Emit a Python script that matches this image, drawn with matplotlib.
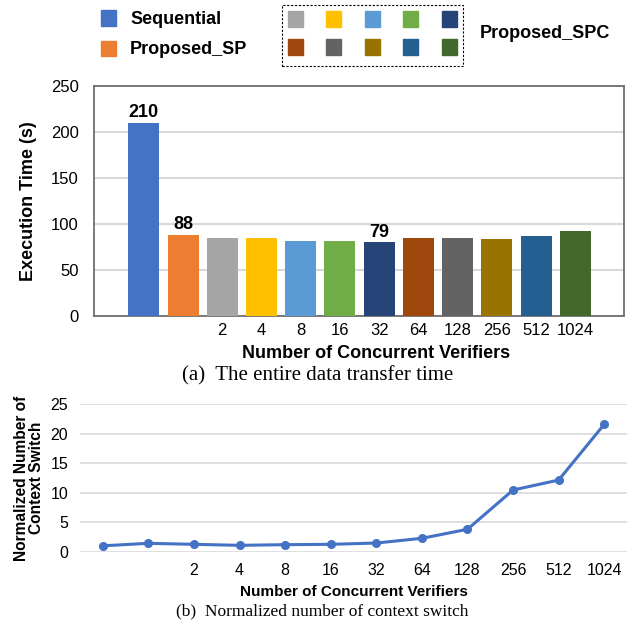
import numpy as np
import matplotlib
matplotlib.use('Agg')
import matplotlib.pyplot as plt
from matplotlib.patches import Rectangle

plt.rcParams['font.family'] = ['Liberation Sans', 'DejaVu Sans']

# ------------------------------------------------------------------
# Data
# ------------------------------------------------------------------
SERIES = ['Sequential', 'Proposed_SP', '2', '4', '8', '16', '32',
          '64', '128', '256', '512', '1024']
TICK_LABELS = ['', '', '2', '4', '8', '16', '32', '64', '128', '256', '512', '1024']
EXEC_TIME = [210, 88, 85, 84, 81.5, 81.5, 80, 85, 85, 83, 87, 92.5]
BAR_LABELS = {0: '210', 1: '88', 6: '79'}
CTX_SWITCH = [1.0, 1.42, 1.25, 1.08, 1.19, 1.25, 1.47, 2.27, 3.8, 10.46, 12.15, 21.6]

COLORS = ['#4472C4', '#ED7D31', '#A5A5A5', '#FFC000', '#5B9BD5', '#70AD47',
          '#264478', '#9E480E', '#636363', '#997300', '#255E91', '#43682B']

GRID = '#D9D9D9'

fig = plt.figure(figsize=(6.33, 6.29), dpi=100)

# ------------------------------------------------------------------
# (a) bar chart
# ------------------------------------------------------------------
ax = fig.add_axes([0.1485, 0.4981, 0.8373, 0.3656])
x = np.arange(len(SERIES))
ax.bar(x, EXEC_TIME, width=0.79, color=COLORS, zorder=3)
for i, lab in BAR_LABELS.items():
    ax.text(x[i], EXEC_TIME[i] + 1.5, lab, ha='center', va='bottom',
            fontsize=13, fontweight='bold')
ax.set_xlim(-1.27, 12.24)
ax.set_ylim(0, 250)
ax.set_yticks(np.arange(0, 251, 50))
ax.set_xticks(x)
ax.set_xticklabels(TICK_LABELS)
ax.tick_params(length=0, labelsize=12)
ax.tick_params(axis='x', pad=5)
ax.tick_params(axis='y', pad=11)
ax.yaxis.grid(True, color=GRID, lw=1.5, zorder=0)
for s in ax.spines.values():
    s.set_color('#6E6E6E')
    s.set_linewidth(1.3)
ax.set_ylabel('Execution Time (s)', fontsize=13, fontweight='bold', labelpad=10)
ax.set_xlabel('Number of Concurrent Verifiers', fontsize=13,
              fontweight='bold', labelpad=5)
ax.xaxis.label.set_x(0.532)

# legend drawn by hand to mimic the grouped layout
def square(xc, yc, color, size=15):
    fig.patches.append(Rectangle(((xc - size / 2) / 633, 1 - (yc + size / 2) / 629),
                                 size / 633, size / 629, color=color,
                                 transform=fig.transFigure, figure=fig))

square(108.5, 18, COLORS[0])
square(108.5, 48.5, COLORS[1])
fig.text(130 / 633, 1 - 19 / 629, 'Sequential', ha='left', va='center',
         fontsize=13, fontweight='bold')
fig.text(130 / 633, 1 - 49 / 629, 'Proposed_SP', ha='left', va='center',
         fontsize=13, fontweight='bold')
col_x = [295, 333.7, 372, 410.5, 449]
for k, c in enumerate(COLORS[2:]):
    square(col_x[k % 5], 19 if k < 5 else 47, c)
fig.patches.append(Rectangle((282.3 / 633, 1 - 65.7 / 629), 180.4 / 633, 60.7 / 629,
                             fill=False, ec='black', lw=0.8, ls=(0, (2, 1.5)),
                             transform=fig.transFigure, figure=fig))
fig.text(480 / 633, 1 - 33 / 629, 'Proposed_SPC', ha='left', va='center',
         fontsize=13, fontweight='bold')

fig.text(318 / 633, 1 - 376 / 629, '(a)  The entire data transfer time', ha='center',
         va='center', fontsize=15, family='Liberation Serif')

# ------------------------------------------------------------------
# (b) line chart
# ------------------------------------------------------------------
ax2 = fig.add_axes([0.1264, 0.1229, 0.8641, 0.2343])
ax2.plot(x, CTX_SWITCH, color='#4472C4', lw=2.2, marker='o', ms=5.5, zorder=3,
         clip_on=False)
ax2.set_xlim(-0.5, 11.5)
ax2.set_ylim(0, 25)
ax2.set_yticks(np.arange(0, 26, 5))
ax2.set_xticks(x)
ax2.set_xticklabels(TICK_LABELS)
ax2.tick_params(length=0, labelsize=11.5)
ax2.tick_params(axis='x', pad=8)
ax2.tick_params(axis='y', pad=8.5)
ax2.yaxis.grid(True, color=GRID, lw=1.2, zorder=0)
for s in ax2.spines.values():
    s.set_visible(False)
ax2.set_ylabel('Normalized Number of\nContext Switch', fontsize=11.2,
               fontweight='bold', labelpad=5, linespacing=0.95)
ax2.set_xlabel('Number of Concurrent Verifiers', fontsize=11,
               fontweight='bold', labelpad=5)

fig.text(322 / 633, 1 - 611 / 629, '(b)  Normalized number of context switch',
         ha='center', va='center', fontsize=12.5, family='Liberation Serif')

fig.savefig('out.png', dpi=100)
